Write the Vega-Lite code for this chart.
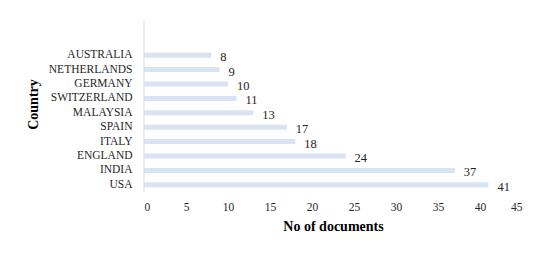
{
  "$schema": "https://vega.github.io/schema/vega-lite/v6.json",
  "width": 378,
  "height": 172,
  "autosize": {"type": "none"},
  "padding": {"left": 144, "top": 20, "right": 28, "bottom": 69},
  "background": "white",
  "config": {
    "view": {"stroke": null},
    "font": "Liberation Serif",
    "text": {"font": "Liberation Serif"}
  },
  "data": {
    "values": [
      {"country": "AUSTRALIA", "docs": 8},
      {"country": "NETHERLANDS", "docs": 9},
      {"country": "GERMANY", "docs": 10},
      {"country": "SWITZERLAND", "docs": 11},
      {"country": "MALAYSIA", "docs": 13},
      {"country": "SPAIN", "docs": 17},
      {"country": "ITALY", "docs": 18},
      {"country": "ENGLAND", "docs": 24},
      {"country": "INDIA", "docs": 37},
      {"country": "USA", "docs": 41}
    ]
  },
  "encoding": {
    "y": {
      "field": "country",
      "type": "nominal",
      "sort": null,
      "scale": {"range": [28, 172], "paddingInner": 0, "paddingOuter": 0},
      "axis": {
        "title": "Country",
        "titleFont": "Liberation Serif",
        "titleFontSize": 14,
        "titleFontWeight": "bold",
        "titleColor": "#000000",
        "titlePadding": 8,
        "titleY": 84,
        "labelFont": "Liberation Serif",
        "labelFontSize": 11.5,
        "labelColor": "#262626",
        "labelPadding": 12,
        "ticks": false,
        "domain": false
      }
    },
    "x": {
      "field": "docs",
      "type": "quantitative",
      "scale": {"domain": [0, 45], "nice": false},
      "axis": {
        "title": "No of documents",
        "titleFont": "Liberation Serif",
        "titleFontSize": 14,
        "titleFontWeight": "bold",
        "titleColor": "#000000",
        "titlePadding": 7,
        "values": [0, 5, 10, 15, 20, 25, 30, 35, 40, 45],
        "labelFont": "Liberation Serif",
        "labelFontSize": 11.5,
        "labelColor": "#262626",
        "labelPadding": 9,
        "ticks": false,
        "domain": false,
        "grid": false
      }
    }
  },
  "layer": [
    {
      "mark": {"type": "bar", "color": "#dae3f3", "size": 5}
    },
    {
      "mark": {"type": "text", "align": "left", "baseline": "middle", "dx": 9, "dy": 2, "fontSize": 12.5, "color": "#262626", "font": "Liberation Serif"},
      "encoding": {"text": {"field": "docs", "type": "quantitative"}}
    },
    {
      "data": {"values": [{"x": 0}]},
      "mark": {"type": "rule", "color": "#d9d9d9", "strokeWidth": 1},
      "encoding": {"x": {"field": "x", "type": "quantitative"}, "y": null}
    }
  ]
}
